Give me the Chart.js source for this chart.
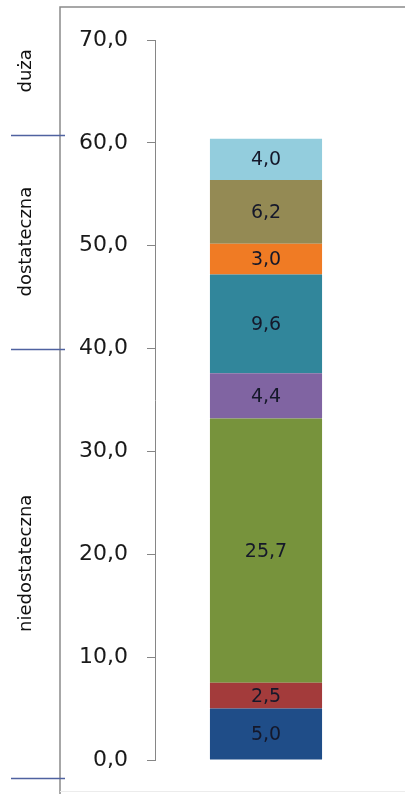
<!DOCTYPE html>
<html>
<head>
<meta charset="utf-8">
<script src="https://cdn.jsdelivr.net/npm/chart.js@4.4.1/dist/chart.umd.min.js"></script>
<style>
  html, body { margin: 0; padding: 0; background: #fff; }
  #chart { display: block; }
</style>
</head>
<body>
<canvas id="chart" width="405" height="794"></canvas>
<script>
// segment values, bottom to top
const segmentValues = [5.0, 2.5, 25.7, 4.4, 9.6, 3.0, 6.2, 4.0];
const segmentColors = ['#1f4d88', '#a33b3b', '#77933c', '#8064a2', '#31869b', '#f07b24', '#948a54', '#93cddd'];

// value axis
const yTicks = [0, 10, 20, 30, 40, 50, 60, 70];

// grade bands on the left axis (edges in value units, bottom to top)
const bandLabels = ['niedostateczna', 'dostateczna', 'duża'];
const bandEdges = [-1.75, 40.0, 60.8, 73.2];

const fmt = v => v.toFixed(1).replace('.', ',');

const barLabelsPlugin = {
  id: 'barLabels',
  afterDatasetsDraw(chart) {
    const ctx = chart.ctx;
    ctx.save();
    ctx.font = '19px "DejaVu Sans"';
    ctx.fillStyle = '#15182a';
    ctx.textAlign = 'center';
    ctx.textBaseline = 'middle';
    chart.data.datasets.forEach((ds, i) => {
      const bar = chart.getDatasetMeta(i).data[0];
      const { x, y, base } = bar.getProps(['x', 'y', 'base'], true);
      ctx.fillText(fmt(ds.data[0]), x, (y + base) / 2 + 1);
    });
    ctx.restore();
  }
};

const bandAxisPlugin = {
  id: 'bandAxis',
  afterDraw(chart) {
    const ctx = chart.ctx;
    const y = chart.scales.y;
    const lineX = 60;
    const top = y.getPixelForValue(bandEdges[bandEdges.length - 1]);
    ctx.save();
    // frame
    ctx.strokeStyle = '#8a8a8a';
    ctx.lineWidth = 1.5;
    ctx.beginPath();
    ctx.moveTo(lineX, chart.height);
    ctx.lineTo(lineX, top);
    ctx.lineTo(chart.width, top);
    ctx.stroke();
    ctx.strokeStyle = '#ececec';
    ctx.lineWidth = 1;
    ctx.beginPath();
    ctx.moveTo(lineX, chart.height - 2.5);
    ctx.lineTo(chart.width, chart.height - 2.5);
    ctx.stroke();
    // band separators
    ctx.strokeStyle = '#4f62a0';
    ctx.lineWidth = 1.5;
    bandEdges.slice(0, -1).forEach(v => {
      const py = Math.round(y.getPixelForValue(v)) + 0.5;
      ctx.beginPath();
      ctx.moveTo(11, py);
      ctx.lineTo(65, py);
      ctx.stroke();
    });
    // band labels
    ctx.font = '18px "DejaVu Sans"';
    ctx.fillStyle = '#111';
    ctx.textAlign = 'center';
    ctx.textBaseline = 'middle';
    bandLabels.forEach((label, i) => {
      const mid = (y.getPixelForValue(bandEdges[i]) + y.getPixelForValue(bandEdges[i + 1])) / 2;
      ctx.save();
      ctx.translate(26, mid);
      ctx.rotate(-Math.PI / 2);
      ctx.fillText(label, 0, 0);
      ctx.restore();
    });
    ctx.restore();
  }
};

new Chart(document.getElementById('chart'), {
  type: 'bar',
  data: {
    labels: [''],
    datasets: segmentValues.map((v, i) => ({
      data: [v],
      backgroundColor: segmentColors[i],
      borderWidth: 0,
      stack: 'grades',
      categoryPercentage: 1,
      barPercentage: 0.505
    }))
  },
  options: {
    responsive: false,
    animation: false,
    layout: { padding: { top: 40, bottom: 34, left: 60, right: 28 } },
    plugins: { legend: { display: false }, tooltip: { enabled: false } },
    scales: {
      x: { display: false, stacked: true },
      y: {
        stacked: true,
        min: yTicks[0],
        max: yTicks[yTicks.length - 1],
        afterBuildTicks: scale => { scale.ticks = yTicks.map(v => ({ value: v })); },
        afterFit: scale => { scale.width = 95; },
        border: { display: true, color: '#868686', width: 1 },
        grid: { drawOnChartArea: false, drawTicks: true, tickLength: 8, color: '#868686' },
        ticks: {
          padding: 19,
          color: '#1a1a1a',
          font: { family: 'DejaVu Sans', size: 22 },
          callback: v => fmt(v)
        }
      }
    }
  },
  plugins: [barLabelsPlugin, bandAxisPlugin]
});
</script>
</body>
</html>
